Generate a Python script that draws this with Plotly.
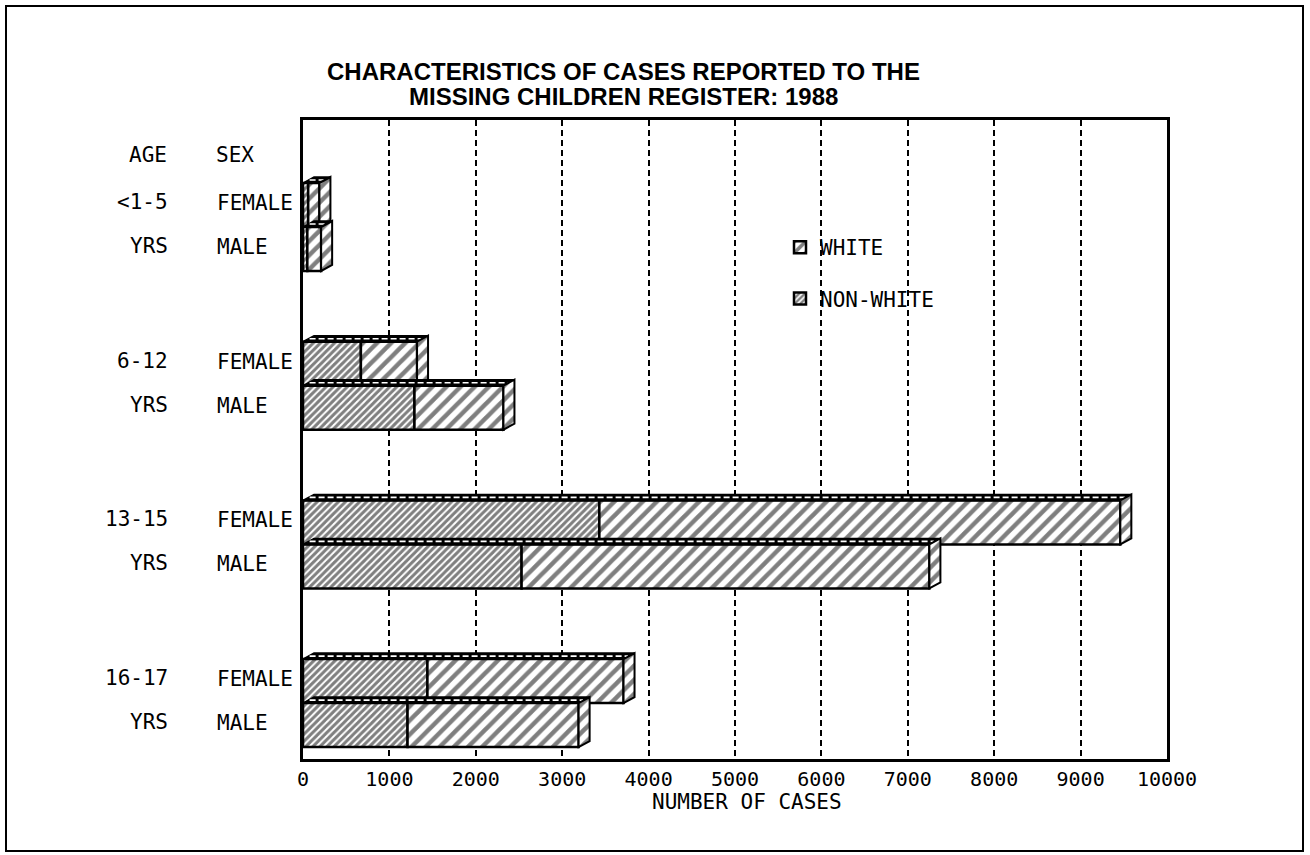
import plotly.graph_objects as go

# ---------------- data ----------------
age_groups = ["<1-5", "6-12", "13-15", "16-17"]
sexes = ["FEMALE", "MALE"]
nonwhite_female = [60, 670, 3430, 1440]
white_female = [130, 650, 6030, 2270]
nonwhite_male = [50, 1290, 2530, 1210]
white_male = [160, 1030, 4720, 1980]
x_ticks = list(range(0, 10001, 1000))

# ---------------- layout constants (pixels) ----------------
FIG_W, FIG_H = 1310, 855
L, R, T, B = 303, 1167, 120, 759
PW, PH = R - L, B - T
X_MAX = 10000
UNIT_PX = PW / X_MAX            # pixels per case
DEPTH_X = 11 / UNIT_PX          # 3-D depth in data units
DEPTH_Y = 6                     # y axis units are pixels
BAR_H = 44
FIRST_CENTER, GROUP_STEP, SEX_STEP = 85, 158.7, 44

FONT_PLOT = "DejaVu Sans Mono"

PAT_WHITE = dict(shape="/", size=10, solidity=0.45, fgcolor="black", bgcolor="white")
PAT_NONWHITE = dict(shape="/", size=5, solidity=0.6, fgcolor="black", bgcolor="white")


def xp(px):
    return (px - L) / PW


def yp(py):
    return (B - py) / PH


# positions and values per bar, female then male within each group
ys, nw, wh, labels_sex = [], [], [], []
for g, age in enumerate(age_groups):
    c = FIRST_CENTER + GROUP_STEP * g
    for s, (n_list, w_list) in enumerate([(nonwhite_female, white_female),
                                           (nonwhite_male, white_male)]):
        ys.append(c + SEX_STEP * s)
        nw.append(n_list[g])
        wh.append(w_list[g])
        labels_sex.append(sexes[s])

fig = go.Figure()

fig.add_trace(go.Bar(
    y=ys, x=nw, base=[0] * len(nw), orientation="h", width=BAR_H,
    name="NON-WHITE", legendgroup="nw", legendrank=2,
    marker=dict(color="white", line=dict(color="black", width=2.5), pattern=PAT_NONWHITE),
    hoverinfo="skip",
))
fig.add_trace(go.Bar(
    y=ys, x=wh, base=nw, orientation="h", width=BAR_H,
    name="WHITE", legendgroup="w", legendrank=1,
    marker=dict(color="white", line=dict(color="black", width=2.5), pattern=PAT_WHITE),
    hoverinfo="skip",
))

# 3-D faces (top and right side) derived from the bar values
for yc, n, w in zip(ys, nw, wh):
    total = n + w
    top = yc - BAR_H / 2
    bot = yc + BAR_H / 2
    # top face
    fig.add_trace(go.Scatter(
        x=[0, DEPTH_X, total + DEPTH_X, total, 0],
        y=[top, top - DEPTH_Y, top - DEPTH_Y, top, top],
        mode="lines", fill="toself", fillcolor="black",
        line=dict(color="black", width=1.5),
        showlegend=False, hoverinfo="skip",
    ))
    fig.add_trace(go.Scatter(
        x=[DEPTH_X * 0.6, total + DEPTH_X * 0.4],
        y=[top - DEPTH_Y / 2, top - DEPTH_Y / 2],
        mode="lines", line=dict(color="white", width=1.6, dash="6px,3px"),
        showlegend=False, hoverinfo="skip",
    ))
    # right face
    fig.add_trace(go.Scatter(
        x=[total, total + DEPTH_X, total + DEPTH_X, total, total],
        y=[top, top - DEPTH_Y, bot - DEPTH_Y, bot, top],
        mode="lines", fill="toself", fillpattern=PAT_WHITE,
        line=dict(color="black", width=2),
        showlegend=False, hoverinfo="skip",
    ))

annotations = []
label_font = dict(family=FONT_PLOT, size=21, color="black")
annotations.append(dict(text="AGE", x=xp(169), y=yp(155), xref="paper", yref="paper",
                        xanchor="right", yanchor="middle", showarrow=False, font=label_font))
annotations.append(dict(text="SEX", x=xp(214), y=yp(155), xref="paper", yref="paper",
                        xanchor="left", yanchor="middle", showarrow=False, font=label_font))
for i, (yc, sx) in enumerate(zip(ys, labels_sex)):
    annotations.append(dict(text=sx, x=xp(215), y=yc - 2, xref="paper", yref="y",
                            xanchor="left", yanchor="middle", showarrow=False, font=label_font))
    age_text = age_groups[i // 2] if i % 2 == 0 else "YRS"
    annotations.append(dict(text=age_text, x=xp(170), y=yc - 3, xref="paper", yref="y",
                            xanchor="right", yanchor="middle", showarrow=False, font=label_font))

title_font = dict(family="Liberation Sans", size=24, color="black")
annotations.append(dict(text="<b>CHARACTERISTICS OF CASES REPORTED TO THE</b>",
                        x=xp(623), y=yp(71), xref="paper", yref="paper",
                        xanchor="center", yanchor="middle", showarrow=False, font=title_font))
annotations.append(dict(text="<b>MISSING CHILDREN REGISTER: 1988</b>",
                        x=xp(623), y=yp(97), xref="paper", yref="paper",
                        xanchor="center", yanchor="middle", showarrow=False, font=title_font))
annotations.append(dict(text="NUMBER OF CASES", x=xp(747), y=yp(802), xref="paper", yref="paper",
                        xanchor="center", yanchor="middle", showarrow=False, font=label_font))

fig.update_layout(
    width=FIG_W, height=FIG_H,
    margin=dict(l=L, r=FIG_W - R, t=T, b=FIG_H - B, pad=0),
    paper_bgcolor="white", plot_bgcolor="white",
    barmode="overlay",
    showlegend=True,
    legend=dict(x=xp(780), y=yp(227), xanchor="left", yanchor="top",
                font=dict(family=FONT_PLOT, size=21, color="black"),
                bgcolor="rgba(0,0,0,0)", tracegroupgap=21, itemwidth=30),
    annotations=annotations,
    shapes=[dict(type="rect", xref="paper", yref="paper",
                 x0=xp(6), x1=xp(1303), y0=yp(851), y1=yp(6),
                 line=dict(color="black", width=2), layer="below")],
    xaxis=dict(range=[0, X_MAX], tickvals=x_ticks, ticktext=[str(v) for v in x_ticks],
               showgrid=True, gridcolor="black", gridwidth=1.5, griddash="6px,4px",
               zeroline=False, showline=True, mirror=True, linecolor="black", linewidth=2.5,
               ticks="", tickfont=dict(family=FONT_PLOT, size=20, color="black")),
    yaxis=dict(range=[PH, 0], showticklabels=False, showgrid=False, zeroline=False,
               showline=True, mirror=True, linecolor="black", linewidth=2.5, ticks=""),
)

fig.write_html(
    "out.html",
    config={"displayModeBar": False},
    post_script="document.body.style.margin='0';document.body.style.overflow='hidden';"
                "document.documentElement.style.overflow='hidden';",
)
